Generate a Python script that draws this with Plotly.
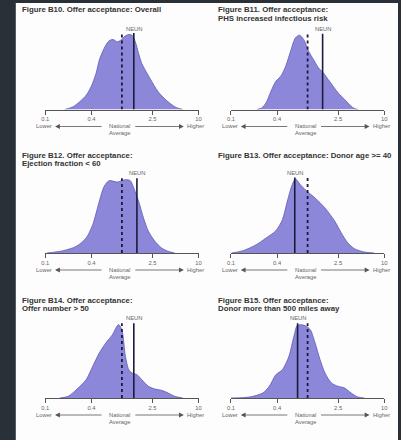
import numpy as np
import plotly.graph_objects as go

# ---------------- data ----------------
titles = [
    ["Figure B10. Offer acceptance: Overall"],
    ["Figure B11. Offer acceptance:", "PHS increased infectious risk"],
    ["Figure B12. Offer acceptance:", "Ejection fraction &lt; 60"],
    ["Figure B13. Offer acceptance: Donor age &gt;= 40"],
    ["Figure B14. Offer acceptance:", "Offer number &gt; 50"],
    ["Figure B15. Offer acceptance:", "Donor more than 500 miles away"],
]
neun_values = [1.43, 1.57, 1.57, 0.68, 1.43, 0.74]
national_average = 1.0
tick_vals = [0.1, 0.4, 2.5, 10]
tick_text = ["0.1", "0.4", "2.5", "10"]

# density curves: log10(ratio) positions and heights (arbitrary units)
b10_log = [-0.744, -0.637, -0.552, -0.466, -0.402, -0.338, -0.295, -0.253, -0.210, -0.167,
           -0.116, -0.060, -0.017, 0.038, 0.089, 0.132, 0.175, 0.218, 0.260, 0.367, 0.474,
           0.602, 0.709, 0.794]
b10_h = [0, 2.7, 7.7, 14.3, 22.7, 36, 49.3, 57.7, 64.3, 68.7, 70, 67.7, 69.3, 73.3, 75, 74.3,
         67.7, 56, 46, 31, 17.7, 7.7, 2, 0]

b11_log = [-0.660, -0.600, -0.542, -0.478, -0.414, -0.350, -0.286, -0.222, -0.158, -0.106,
           -0.051, 0.013, 0.077, 0.141, 0.205, 0.269, 0.333, 0.397, 0.483, 0.568, 0.611, 0.660]
b11_h = [0, 1.5, 6.7, 18.3, 28.3, 33.3, 43.3, 58.3, 71.7, 74.3, 70, 58.3, 50, 41.7, 36.7, 30,
         23.3, 16.7, 10, 3.3, 1, 0]

b12_log = [-0.979, -0.765, -0.594, -0.467, -0.381, -0.295, -0.231, -0.167, -0.060, 0.046,
           0.110, 0.154, 0.218, 0.282, 0.346, 0.431, 0.517, 0.603, 0.688]
b12_h = [0, 2.3, 6.7, 15, 28.3, 51.7, 66.7, 72.3, 71, 73.3, 72.3, 65, 51.7, 35, 21.7, 11.7,
         5, 1.7, 0]

b13_log = [-0.991, -0.842, -0.671, -0.542, -0.414, -0.329, -0.265, -0.201, -0.158, -0.094,
           -0.009, 0.098, 0.227, 0.355, 0.440, 0.526, 0.611, 0.740, 0.868]
b13_h = [0, 2.3, 8.3, 15, 22.3, 33.3, 51.7, 68.3, 74, 68.3, 61.7, 55, 45, 31.7, 20, 10, 4.3,
         1, 0]

b14_log = [-0.808, -0.701, -0.595, -0.467, -0.381, -0.295, -0.210, -0.124, -0.060, -0.038,
           0.004, 0.046, 0.090, 0.132, 0.196, 0.260, 0.346, 0.431, 0.517, 0.603, 0.688, 0.795]
b14_h = [0, 1.7, 8.3, 18.3, 31.7, 45, 55, 63.3, 72.3, 73.3, 66.7, 41.7, 28.3, 25, 23.3, 18.3,
         11.7, 9, 7.7, 5, 1.7, 0]

b15_log = [-1.0, -0.756, -0.586, -0.500, -0.414, -0.329, -0.244, -0.179, -0.137, -0.094,
           -0.029, 0.035, 0.098, 0.163, 0.227, 0.312, 0.397, 0.483, 0.568, 0.654, 0.740]
b15_h = [0, 1, 5, 11.7, 23.3, 28.3, 41.7, 61.7, 72.3, 73.3, 72.3, 68.3, 55, 38.3, 25, 15,
         11.7, 10, 5, 1, 0]

curves = [(b10_log, b10_h), (b11_log, b11_h), (b12_log, b12_h),
          (b13_log, b13_h), (b14_log, b14_h), (b15_log, b15_h)]

# ---------------- layout geometry (pixels) ----------------
W, H = 401, 440
col_x = [(42, 198), (231, 387)]
row_base = [109.5, 253, 398]
plot_h = 80
title_x = [16, 216]
title_y = [(10, 18.5), (155, 163), (300, 308.5)]

FILL = "#8c87d8"
EDGE = "#5f5ab5"
DARK = "#1b1b3c"
GREY = "#555555"
FONT = "Liberation Sans, Arial, sans-serif"


def fx(p):
    return p / W


def fy(p):
    return 1 - p / H


fig = go.Figure()
annotations = []
shapes = []

# background: dark frame + white page
shapes.append(dict(type="rect", xref="paper", yref="paper", x0=fx(12), x1=1.0,
                   y0=0, y1=fy(3), fillcolor="#fdfdfd", line=dict(width=0), layer="below"))

for i, (lg, hh) in enumerate(curves):
    r, c = divmod(i, 2)
    ax_id = "" if i == 0 else str(i + 1)
    xa, ya = "x" + ax_id, "y" + ax_id
    x0p, x1p = col_x[c]
    base = row_base[r]
    xs = [10 ** v for v in lg]
    fig.add_trace(go.Scatter(
        x=xs, y=hh, mode="lines", fill="tozeroy", fillcolor=FILL,
        line=dict(color=EDGE, width=0.8, shape="spline", smoothing=0.8),
        xaxis=xa, yaxis=ya, showlegend=False, hoverinfo="skip"))
    top = max(hh) + 1.5
    fig.add_trace(go.Scatter(
        x=[national_average, national_average], y=[0, top], mode="lines",
        line=dict(color=DARK, width=1.8, dash="dot"),
        xaxis=xa, yaxis=ya, showlegend=False, hoverinfo="skip"))
    fig.add_trace(go.Scatter(
        x=[neun_values[i], neun_values[i]], y=[0, top], mode="lines",
        line=dict(color=DARK, width=1.6),
        xaxis=xa, yaxis=ya, showlegend=False, hoverinfo="skip"))

    fig.update_layout(**{
        "xaxis" + ax_id: dict(
            type="log", range=[-1, 1], domain=[fx(x0p), fx(x1p)], anchor=ya,
            tickvals=tick_vals, ticktext=tick_text, showgrid=False, zeroline=False,
            showline=True, linecolor=GREY, linewidth=1, ticks="outside", ticklen=4,
            tickwidth=1, tickcolor=GREY, tickfont=dict(size=5.8, color="#666", family=FONT),
            fixedrange=True),
        "yaxis" + ax_id: dict(
            range=[0, plot_h], domain=[fy(base), fy(base - plot_h)], anchor=xa,
            visible=False, fixedrange=True),
    })

    # titles
    for k, line in enumerate(titles[i]):
        annotations.append(dict(
            text="<b>" + line + "</b>", xref="paper", yref="paper",
            x=fx(title_x[c]), y=fy(title_y[r][k]), xanchor="left", yanchor="middle",
            showarrow=False, font=dict(size=7.8, color="#333", family=FONT)))

    # NEUN label
    annotations.append(dict(
        text="NEUN", xref=xa, yref="paper", x=np.log10(neun_values[i]),
        y=fy(base - 80), xanchor="center", yanchor="middle", showarrow=False,
        font=dict(size=5.8, color="#666", family=FONT)))

    # bottom labels
    xc = x0p + (x1p - x0p) / 2
    lab_y = base + 17
    lab_font = dict(size=5.8, color="#666", family=FONT)
    annotations.append(dict(text="Lower", xref="paper", yref="paper", x=fx(x0p - 1),
                            y=fy(lab_y), xanchor="center", yanchor="middle", showarrow=False,
                            font=lab_font))
    annotations.append(dict(text="National", xref="paper", yref="paper", x=fx(xc - 2),
                            y=fy(lab_y - 0.5), xanchor="center", yanchor="middle",
                            showarrow=False, font=lab_font))
    annotations.append(dict(text="Average", xref="paper", yref="paper", x=fx(xc - 2),
                            y=fy(lab_y + 6.5), xanchor="center", yanchor="middle",
                            showarrow=False, font=lab_font))
    annotations.append(dict(text="Higher", xref="paper", yref="paper", x=fx(x1p - 3),
                            y=fy(lab_y), xanchor="center", yanchor="middle", showarrow=False,
                            font=lab_font))
    # arrows
    lt, ltail = x0p + 10, xc - 20
    rt, rtail = x1p - 15, xc + 13
    for tip, tail in [(lt, ltail), (rt, rtail)]:
        annotations.append(dict(
            text="", xref="paper", yref="paper", x=fx(tip), y=fy(lab_y),
            ax=tail - tip, ay=0, showarrow=True, arrowhead=2, arrowsize=1.2,
            arrowwidth=0.8, arrowcolor="#555", standoff=0, startstandoff=0))

fig.update_layout(
    width=W, height=H, margin=dict(l=0, r=0, t=0, b=0),
    paper_bgcolor="#2a3038", plot_bgcolor="rgba(0,0,0,0)",
    annotations=annotations, shapes=shapes, showlegend=False,
    font=dict(family=FONT),
)

fig.write_html("out.html", config={"displayModeBar": False},
               post_script="document.body.style.margin='0';document.body.style.overflow='hidden';")
